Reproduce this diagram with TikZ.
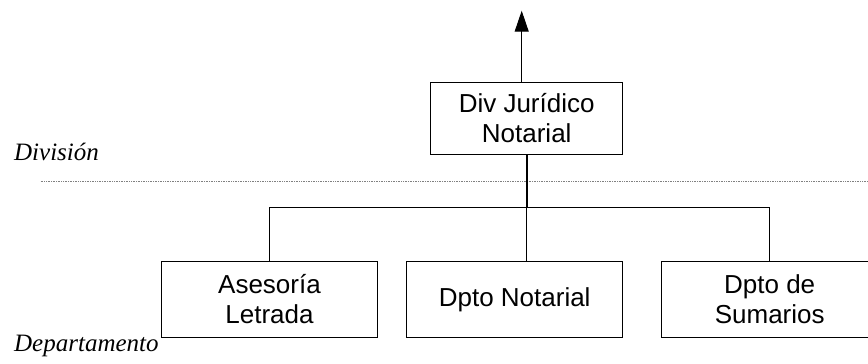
\documentclass[tikz,border=0pt]{standalone}
\usepackage{fontspec}
\usepackage{tikz}
\usetikzlibrary{arrows.meta}
\newfontfamily\boxfont{Liberation Sans}
\newfontfamily\levelfont{Liberation Serif}

\begin{document}
\begin{tikzpicture}[x=1pt,y=-1pt,
    unit/.style={draw,line width=1.2pt,align=center,inner sep=0pt,
      font=\boxfont\fontsize{26}{30}\selectfont},
    level/.style={anchor=base west,inner sep=0pt,
      font=\levelfont\itshape\fontsize{25}{30}\selectfont},
    link/.style={line width=1pt}]
      \useasboundingbox (0,0) rectangle (868,364);
      \clip (0,0) rectangle (868,364);
      \node [unit,minimum width=192pt,minimum height=72pt] (jur) at (526.7,118.3) {Div Jurídico\\Notarial};
      \node [unit,minimum width=215.6pt,minimum height=76.4pt] (ase) at (269.5,299.5) {Asesoría\\Letrada};
      \node [unit,minimum width=216pt,minimum height=76.4pt] (dno) at (514.7,299.5) {Dpto Notarial};
      \node [unit,minimum width=216pt,minimum height=76.4pt] (dsu) at (769.7,299.5) {Dpto de\\Sumarios};
      \node [level] (div) at (14,160.7) {División};
      \node [level] (dep) at (14,351) {Departamento};
      \coordinate (up) at (521.7,10.7);
      \coordinate (bus) at (526.7,207.3);
      % dotted level line
      \draw [gray,line width=0.7pt,densely dotted] (40.7,181) -- (868,181);
      \draw [link,-{Triangle[length=21pt,width=14pt]}] (jur.north -| up) -- (up);
      \draw [line width=2pt] (jur.south) -- (bus);
      \draw [link] (ase.north) |- (bus) -| (dsu.north);
      \draw [link] (bus) -- (bus |- dno.north);
\end{tikzpicture}
\end{document}
